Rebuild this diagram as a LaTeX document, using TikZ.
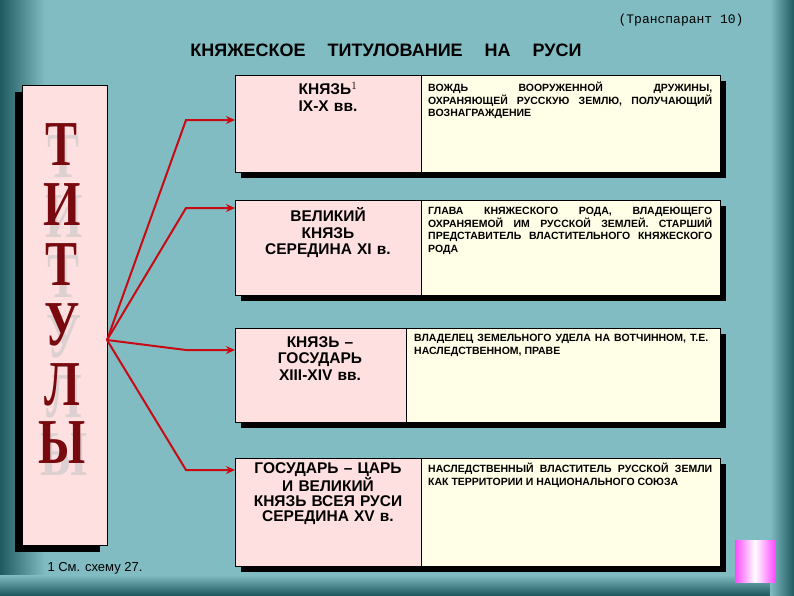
\documentclass[tikz,border=0pt]{standalone}
\usepackage{fontspec}
\usetikzlibrary{arrows.meta}
\setmainfont{Liberation Sans}
\newfontfamily\serifb{Liberation Serif}
\newfontfamily\monof{Liberation Mono}
\definecolor{bgc}{RGB}{128,188,194}
\definecolor{bgd}{RGB}{30,90,95}
\definecolor{arrc}{RGB}{200,10,20}
\definecolor{letc}{RGB}{120,10,15}
\begin{document}
\begin{tikzpicture}[x=1pt,y=-1pt,
  tl/.style={fill=red!12!white,draw=black,line width=0.8pt},
  tr/.style={fill=yellow!10!white,draw=black,line width=0.8pt},
  shd/.style={fill=black},
  lt/.style={font=\bfseries\fontsize{15.5}{16.5}\selectfont,align=center,text width=180pt},
  rt/.style={font=\bfseries\fontsize{10.5}{12.5}\selectfont,align=justify,text width=284pt,anchor=north west,inner sep=0pt},
  arr/.style={draw=arrc,line width=2pt,-{Stealth[length=9pt,width=8pt]}},
  let/.style={font=\serifb\bfseries\fontsize{64}{64}\selectfont,text=letc,xscale=0.75}]
\useasboundingbox (0,0) rectangle (794,595);
\fill[bgc] (0,0) rectangle (794,595);
\shade[left color=bgd,right color=bgc] (0,0) rectangle (45,595);
\shade[top color=bgc,bottom color=bgd] (0,575) rectangle (794,595);
\shade[left color=bgc,right color=bgd] (770,0) rectangle (794,595);
\node[font=\monof\fontsize{13}{13}\selectfont] (tp) at (681,20) {(Транспарант 10)};
\node[font=\bfseries\fontsize{18}{18}\selectfont] (ti) at (386,50) {КНЯЖЕСКОЕ\hspace{22pt}ТИТУЛОВАНИЕ\hspace{22pt}НА\hspace{22pt}РУСИ};
% left box
\fill[shd] (15,92) rectangle (100,552);
\draw[tl] (22,85) rectangle (107,545);
\foreach \l/\y [count=\i] in {Т/145,И/205,Т/265,У/325,Л/385,Ы/443}{
  \node[let,text=gray!45,opacity=0.6] at (64,\y+12) {\l};
  \node[let] (l\i) at (62,\y) {\l};}
\node[font=\fontsize{13}{13}\selectfont,anchor=west] (fn) at (44,568) {1 См. схему 27.};
% rows
\foreach \a/\b/\s/\n in {75/172/421/1,200/295/421/2,328/422/406/3,458/566/421/4}{
  \fill[shd] (241,\a+6) rectangle (726,\b+6);
  \draw[tl] (235,\a) rectangle (\s,\b);
  \draw[tr] (\s,\a) rectangle (720,\b);
  \coordinate (in\n) at (235,\a);
}
\node[lt,anchor=north] (k1) at (328,79) {КНЯЗЬ$^{1}$\\IX-X вв.};
\node[rt] (d1) at (428,82) {ВОЖДЬ ВООРУЖЕННОЙ ДРУЖИНЫ, ОХРАНЯЮЩЕЙ РУССКУЮ ЗЕМЛЮ, ПОЛУЧАЮЩИЙ ВОЗНАГРАЖДЕНИЕ};
\node[lt,anchor=north] (k2) at (328,204) {ВЕЛИКИЙ\\КНЯЗЬ\\СЕРЕДИНА XI в.};
\node[rt] (d2) at (428,207) {ГЛАВА КНЯЖЕСКОГО РОДА, ВЛАДЕЮЩЕГО ОХРАНЯЕМОЙ ИМ РУССКОЙ ЗЕМЛЕЙ. СТАРШИЙ ПРЕДСТАВИТЕЛЬ ВЛАСТИТЕЛЬНОГО КНЯЖЕСКОГО РОДА};
\node[lt,anchor=north,text width=160pt] (k3) at (320,333) {КНЯЗЬ –\\ГОСУДАРЬ\\XIII-XIV вв.};
\node[rt,text width=294pt] (d3) at (414,334) {ВЛАДЕЛЕЦ ЗЕМЕЛЬНОГО УДЕЛА НА ВОТЧИННОМ, Т.Е. НАСЛЕДСТВЕННОМ, ПРАВЕ};
\node[lt,anchor=north,font=\bfseries\fontsize{15.5}{15}\selectfont] (k4) at (328,459) {ГОСУДАРЬ – ЦАРЬ\\И ВЕЛИКИЙ\\КНЯЗЬ ВСЕЯ РУСИ\\СЕРЕДИНА XV в.};
\node[rt] (d4) at (428,463) {НАСЛЕДСТВЕННЫЙ ВЛАСТИТЕЛЬ РУССКОЙ ЗЕМЛИ КАК ТЕРРИТОРИИ И НАЦИОНАЛЬНОГО СОЮЗА};
% arrows
\coordinate (src) at (107,340);
\foreach \y/\n in {120/1,208/2,350/3,470/4}{
  \coordinate (b\n) at (186,\y);
  \draw[arr] (src) -- (b\n) -- (in\n |- b\n);
}
% button
\shade[left color=magenta!70!white,right color=magenta!70!white,middle color=white] (735,540) rectangle (775,582);
\end{tikzpicture}
\end{document}
